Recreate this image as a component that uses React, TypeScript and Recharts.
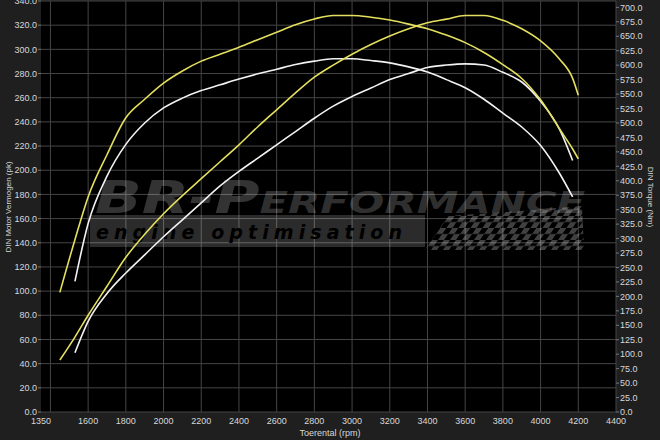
import { LineChart, Line, XAxis, YAxis, CartesianGrid, Customized } from "recharts";

const rpm = [1450, 1530, 1600, 1700, 1800, 1900, 2000, 2100, 2200, 2300, 2400, 2500, 2600, 2700, 2800, 2900, 3000, 3100, 3200, 3300, 3400, 3500, 3600, 3700, 3800, 3900, 4000, 4100, 4170, 4200];

// tuned (yellow)
const tunedPower = [43, 62, 80, 104, 128, 147, 164, 179, 193, 207, 221, 236, 250, 264, 277, 287, 296, 304, 311, 317, 322, 325, 328, 328, 324, 317, 307, 292, 276, 262];
const tunedTorque = [207, 298, 372, 445, 509, 541, 569, 590, 607, 619, 631, 644, 657, 670, 680, 686, 686, 683, 678, 671, 663, 652, 639, 622, 601, 577, 540, 490, 455, 438];

// stock (white)
const stockPower = [null, 49, 75, 98, 115, 130, 145, 159, 173, 187, 199, 210, 221, 232, 243, 253, 261, 268, 275, 280, 285, 287, 288, 287, 281, 273, 257, 234, 208, null];
const stockTorque = [null, 226, 326, 408, 463, 500, 526, 543, 556, 566, 576, 585, 593, 601, 607, 611, 611, 608, 604, 597, 588, 575, 561, 541, 517, 493, 461, 413, 372, null];

const xTicks = [1350, 1600, 1800, 2000, 2200, 2400, 2600, 2800, 3000, 3200, 3400, 3600, 3800, 4000, 4200, 4400];
const xGrid = [1400, 1600, 1800, 2000, 2200, 2400, 2600, 2800, 3000, 3200, 3400, 3600, 3800, 4000, 4200, 4400];
const pkTicks = [0, 20, 40, 60, 80, 100, 120, 140, 160, 180, 200, 220, 240, 260, 280, 300, 320, 340];
const nmTicks = [0, 25, 50, 75, 100, 125, 150, 175, 200, 225, 250, 275, 300, 325, 350, 375, 400, 425, 450, 475, 500, 525, 550, 575, 600, 625, 650, 675, 700];

const data = rpm.map((r, i) => ({
  rpm: r,
  tunedPower: tunedPower[i],
  tunedTorque: tunedTorque[i],
  stockPower: stockPower[i],
  stockTorque: stockTorque[i],
}));

const YELLOW = "#e4df5e";
const WHITE = "#f2f2f2";
const FONT = "'Liberation Sans', Arial, sans-serif";
const tickStyle = { fill: "#d8d8d8", fontSize: 9, fontFamily: FONT };

function Decor() {
  return (
    <g>
      <defs>
        <pattern id="chk" width="12" height="12" patternUnits="userSpaceOnUse" patternTransform="skewX(-35)">
          <rect x="0" y="0" width="6" height="6" fill="rgba(255,255,255,0.25)" />
          <rect x="6" y="6" width="6" height="6" fill="rgba(255,255,255,0.25)" />
        </pattern>
      </defs>
      {/* watermark */}
      <text
        x={95}
        y={213}
        fontFamily="'DejaVu Sans', sans-serif"
        fontStyle="italic"
        fontWeight={900}
        fill="rgba(255,255,255,0.2)"
        textLength={490}
        lengthAdjust="spacingAndGlyphs"
      >
        <tspan fontSize={44}>BR-P</tspan>
        <tspan fontSize={30}>ERFORMANCE</tspan>
      </text>
      <rect x={90} y={215} width={335} height={32} fill="rgba(255,255,255,0.17)" />
      <polygon points="425,250 448,216 520,211 582,206 584,250" fill="url(#chk)" />
      <text
        x={96}
        y={239}
        fontFamily="'DejaVu Sans', sans-serif"
        fontStyle="italic"
        fontWeight={700}
        fontSize={19}
        fill="#000"
        textLength={306}
        lengthAdjust="spacing"
      >
        engine optimisation
      </text>
      {/* axis titles */}
      <text x={11} y={207} transform="rotate(-90 11 207)" textAnchor="middle" fill="#d8d8d8" fontSize={8} fontFamily={FONT}>
        DIN Motor Vermogen (pk)
      </text>
      <text x={648} y={197} transform="rotate(90 648 197)" textAnchor="middle" fill="#d8d8d8" fontSize={8} fontFamily={FONT}>
        DIN Torque (Nm)
      </text>
      <text x={330} y={436} textAnchor="middle" fill="#d8d8d8" fontSize={9} fontFamily={FONT}>
        Toerental (rpm)
      </text>
    </g>
  );
}

export default function App() {
  return (
    <div style={{ width: 660, height: 440, background: "#1f1f1f" }}>
      <style>{"body{margin:0;background:#1f1f1f}"}</style>
      <LineChart width={660} height={440} data={data} margin={{ top: 1, right: 0, left: 0, bottom: 0 }}>
        <CartesianGrid
          yAxisId="pk"
          fill="#000"
          stroke="#454545"
          strokeWidth={1}
          verticalValues={xGrid}
        />
        <XAxis
          dataKey="rpm"
          type="number"
          domain={[1350, 4400]}
          ticks={xTicks}
          interval={0}
          height={28}
          tick={tickStyle}
          tickLine={false}
          axisLine={false}
          tickSize={3}
          tickMargin={3}
        />
        <YAxis
          yAxisId="pk"
          domain={[0, 340]}
          ticks={pkTicks}
          interval={0}
          width={41}
          tick={tickStyle}
          tickFormatter={(v: number) => v.toFixed(1)}
          tickLine={{ stroke: "#777" }}
          tickSize={3}
          tickMargin={1}
          axisLine={false}
        />
        <YAxis
          yAxisId="nm"
          orientation="right"
          domain={[0, 711]}
          ticks={nmTicks}
          interval={0}
          width={44}
          tick={tickStyle}
          tickFormatter={(v: number) => v.toFixed(1)}
          tickLine={{ stroke: "#777" }}
          tickSize={3}
          tickMargin={1}
          axisLine={false}
        />
        <Customized component={<Decor />} />
        <Line yAxisId="nm" dataKey="stockTorque" type="monotone" stroke={WHITE} strokeWidth={1.6} dot={false} isAnimationActive={false} />
        <Line yAxisId="pk" dataKey="stockPower" type="monotone" stroke={WHITE} strokeWidth={1.6} dot={false} isAnimationActive={false} />
        <Line yAxisId="nm" dataKey="tunedTorque" type="monotone" stroke={YELLOW} strokeWidth={1.6} dot={false} isAnimationActive={false} />
        <Line yAxisId="pk" dataKey="tunedPower" type="monotone" stroke={YELLOW} strokeWidth={1.6} dot={false} isAnimationActive={false} />
      </LineChart>
    </div>
  );
}
